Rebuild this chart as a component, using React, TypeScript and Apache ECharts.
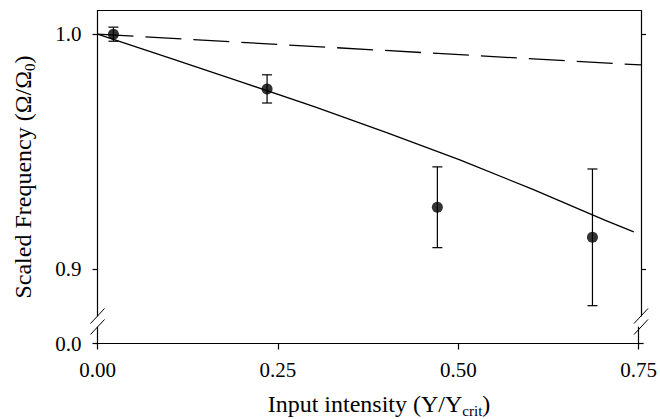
import React, { useEffect, useRef } from "react";
import * as echarts from "echarts";

// ---- data ----
const xTickValues = [0, 0.25, 0.5, 0.75];
const yUpperTicks = [0.9, 1.0];
const yLowerTicks = [0.0];

// measured points with error bars
const pointX = [0.022, 0.234, 0.469, 0.683];
const pointY = [1.0, 0.9767, 0.9263, 0.9135];
const pointErr = [0.003, 0.006, 0.0172, 0.0291];

// solid fitted curve
const fitX = [0, 0.1, 0.2, 0.3, 0.4, 0.5, 0.6, 0.7, 0.74];
const fitY = [1.0, 0.9898, 0.9795, 0.969, 0.958, 0.9465, 0.934, 0.9208, 0.9158];

// dashed reference curve
const refX = [0, 0.75];
const refY = [1.0, 0.9869];

const FONT = '"Liberation Serif", "Times New Roman", serif';
const W = 660;
const H = 419;
const PLOT_LEFT = 97.5;
const PLOT_RIGHT = 641;
const UPPER_TOP = 10.7;
const BREAK_TOP = 316;
const BREAK_BOTTOM = 327;
const AXIS_BOTTOM = 343.5;

export default function App() {
  const ref = useRef<HTMLDivElement>(null);

  useEffect(() => {
    if (!ref.current) return;
    const chart = echarts.init(ref.current, null, { renderer: "svg" });
    const black = "#000";
    const axisLine = { show: true, onZero: false, lineStyle: { color: black, width: 1.2 } };
    const labelStyle = { color: black, fontSize: 21, fontFamily: FONT };

    const slashes: any[] = [];
    [PLOT_LEFT, PLOT_RIGHT].forEach((cx) => {
      [BREAK_TOP, BREAK_BOTTOM].forEach((cy) => {
        slashes.push({
          type: "line",
          shape: { x1: cx - 7, y1: cy + 7.5, x2: cx + 7, y2: cy - 7.5 },
          style: { stroke: black, lineWidth: 1 },
          z: 10,
        });
      });
    });

    const titleRich = {
      m: { fontSize: 24, fontFamily: FONT, fill: black, lineHeight: 28 },
      s: { fontSize: 15, fontFamily: FONT, fill: black, lineHeight: 8, verticalAlign: "bottom" },
    };

    chart.setOption({
      animation: false,
      backgroundColor: "#fff",
      grid: [
        { left: PLOT_LEFT, right: W - PLOT_RIGHT, top: UPPER_TOP, height: BREAK_TOP - UPPER_TOP },
        { left: PLOT_LEFT, right: W - PLOT_RIGHT, top: BREAK_BOTTOM, height: AXIS_BOTTOM - BREAK_BOTTOM },
      ],
      xAxis: [
        {
          gridIndex: 0,
          type: "value",
          min: 0,
          max: 0.75,
          position: "top",
          axisLine,
          axisTick: { show: false },
          axisLabel: { show: false },
          splitLine: { show: false },
        },
        {
          gridIndex: 1,
          type: "value",
          min: 0,
          max: 0.75,
          interval: 0.25,
          position: "bottom",
          axisLine,
          axisTick: { show: true, inside: false, length: 6, lineStyle: { color: black, width: 1.2 }, customValues: xTickValues },
          axisLabel: { ...labelStyle, margin: 16, customValues: xTickValues, formatter: (v: number) => v.toFixed(2) },
          splitLine: { show: false },
        },
      ],
      yAxis: [
        {
          gridIndex: 0,
          type: "value",
          min: 0.88,
          max: 1.01,
          position: "left",
          axisLine,
          axisTick: { show: true, inside: false, length: 5, lineStyle: { color: black, width: 1.2 }, customValues: yUpperTicks },
          axisLabel: { ...labelStyle, margin: 16, customValues: yUpperTicks, formatter: (v: number) => v.toFixed(1) },
          splitLine: { show: false },
        },
        {
          gridIndex: 0,
          type: "value",
          min: 0.88,
          max: 1.01,
          position: "right",
          axisLine,
          axisTick: { show: true, inside: false, length: 5, lineStyle: { color: black, width: 1.2 }, customValues: yUpperTicks },
          axisLabel: { show: false },
          splitLine: { show: false },
        },
        {
          gridIndex: 1,
          type: "value",
          min: 0,
          max: 0.05,
          position: "left",
          axisLine,
          axisTick: { show: true, inside: false, length: 5, lineStyle: { color: black, width: 1.2 }, customValues: yLowerTicks },
          axisLabel: { ...labelStyle, margin: 16, customValues: yLowerTicks, formatter: (v: number) => v.toFixed(1) },
          splitLine: { show: false },
        },
        {
          gridIndex: 1,
          type: "value",
          min: 0,
          max: 0.05,
          position: "right",
          axisLine,
          axisTick: { show: true, inside: false, length: 5, lineStyle: { color: black, width: 1.2 }, customValues: yLowerTicks },
          axisLabel: { show: false },
          splitLine: { show: false },
        },
      ],
      series: [
        {
          name: "reference",
          type: "line",
          xAxisIndex: 0,
          yAxisIndex: 0,
          data: refX.map((x, i) => [x, refY[i]]),
          showSymbol: false,
          lineStyle: { color: black, width: 1.3, type: [36, 12] },
          z: 2,
        },
        {
          name: "fit",
          type: "line",
          xAxisIndex: 0,
          yAxisIndex: 0,
          data: fitX.map((x, i) => [x, fitY[i]]),
          showSymbol: false,
          lineStyle: { color: black, width: 1.3 },
          z: 2,
        },
        {
          name: "errors",
          type: "custom",
          xAxisIndex: 0,
          yAxisIndex: 0,
          encode: { x: 0, y: 1 },
          data: pointX.map((x, i) => [x, pointY[i], pointErr[i]]),
          renderItem: (_params: any, api: any) => {
            const x = api.value(0);
            const y = api.value(1);
            const e = api.value(2);
            const top = api.coord([x, y + e]);
            const bot = api.coord([x, y - e]);
            const cw = 5;
            const st = { stroke: black, lineWidth: 1.2 };
            return {
              type: "group",
              children: [
                { type: "line", shape: { x1: top[0], y1: top[1], x2: bot[0], y2: bot[1] }, style: st },
                { type: "line", shape: { x1: top[0] - cw, y1: top[1], x2: top[0] + cw, y2: top[1] }, style: st },
                { type: "line", shape: { x1: bot[0] - cw, y1: bot[1], x2: bot[0] + cw, y2: bot[1] }, style: st },
              ],
            };
          },
          z: 3,
        },
        {
          name: "measured",
          type: "scatter",
          xAxisIndex: 0,
          yAxisIndex: 0,
          data: pointX.map((x, i) => [x, pointY[i]]),
          symbol: "circle",
          symbolSize: 11,
          itemStyle: { color: black },
          z: 4,
        },
      ],
      graphic: [
        ...slashes,
        {
          type: "text",
          x: 379,
          y: 404,
          style: {
            text: "{m|Input intensity (Y/Y}{s|crit}{m|)}",
            rich: titleRich,
            align: "center",
            verticalAlign: "middle",
            fontFamily: FONT,
            fontSize: 24,
            fill: black,
          },
        },
        {
          type: "text",
          x: 23,
          y: 177,
          rotation: Math.PI / 2,
          style: {
            text: "{m|Scaled Frequency (Ω/Ω}{s|0}{m|)}",
            rich: titleRich,
            align: "center",
            verticalAlign: "middle",
            fontFamily: FONT,
            fontSize: 24,
            fill: black,
          },
        },
      ],
    });
    return () => chart.dispose();
  }, []);

  return (
    <div
      ref={ref}
      style={{ position: "fixed", left: 0, top: 0, width: W, height: H, background: "#fff" }}
    />
  );
}
